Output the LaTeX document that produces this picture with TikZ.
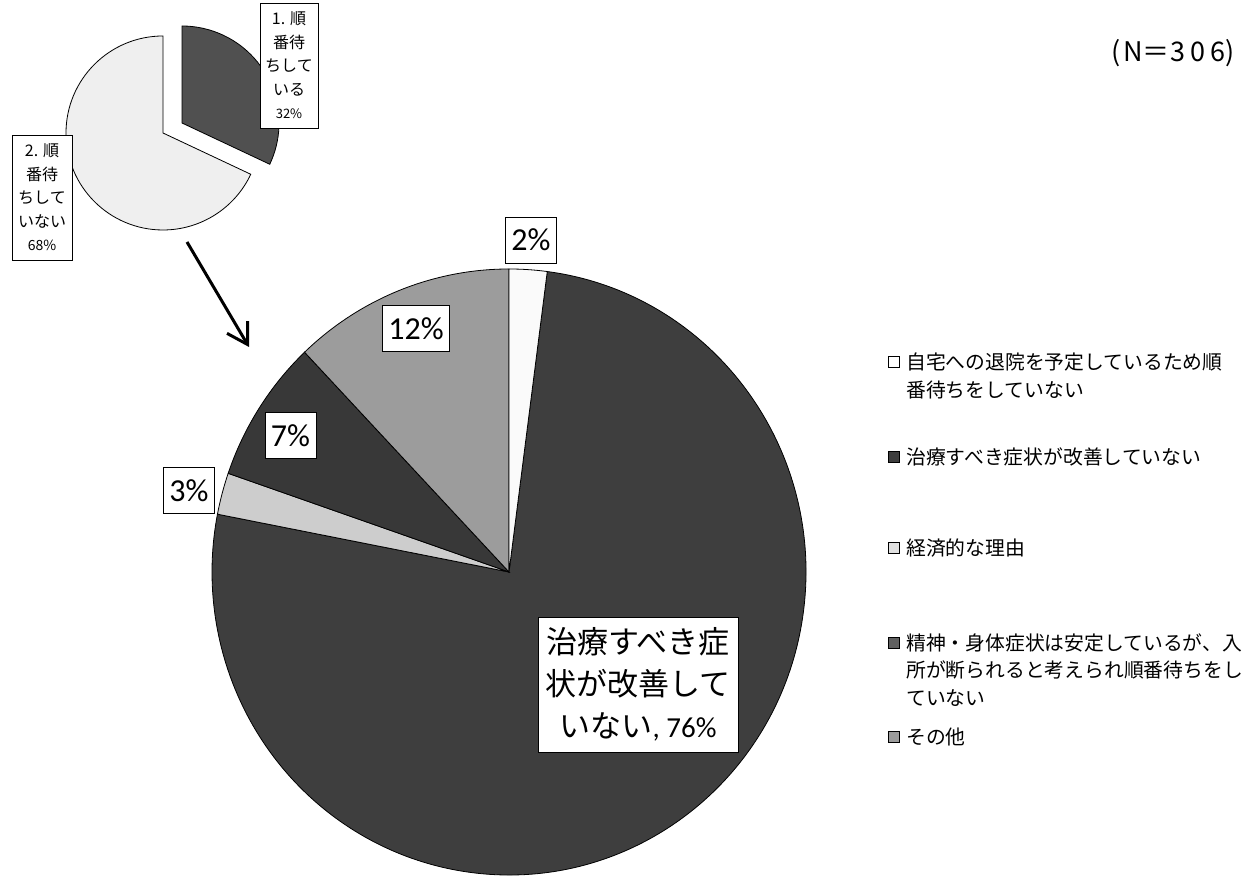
\documentclass[tikz,border=0pt]{standalone}
\usepackage{fontspec}
\setmainfont{Carlito}
\newfontfamily\jp{Noto Sans CJK JP}
\newfontfamily\carl{Carlito}
\usetikzlibrary{arrows.meta}
\definecolor{cwhite}{HTML}{FAFAFA}
\definecolor{cdark}{HTML}{3E3E3E}
\definecolor{cdarkb}{HTML}{383838}
\definecolor{clight}{HTML}{CDCDCD}
\definecolor{cmid}{HTML}{9C9C9C}
\definecolor{csmalldark}{HTML}{505050}
\definecolor{csmalllight}{HTML}{EFEFEF}
\begin{document}
\begin{tikzpicture}[x=1pt,y=1pt,
  sliceline/.style={draw=black,line width=0.8pt},
  pctbox/.style={draw=black,fill=white,line width=0.8pt,font=\carl\fontsize{32}{38}\selectfont,inner xsep=6pt,inner ysep=0pt,minimum height=46pt},
  smallbox/.style={draw=black,fill=white,line width=0.8pt,align=center,inner sep=0pt,font=\jp\fontsize{16}{23.5}\selectfont},
  legtext/.style={anchor=west,align=left,inner sep=0pt,font=\jp\fontsize{19.8}{27.5}\selectfont},
  legsq/.style={draw=black,line width=0.6pt,minimum size=11pt,inner sep=0pt}]
\useasboundingbox[fill=white] (0,0) rectangle (1252,877);

% ---- small pie ----
\begin{scope}[shift={(163,744)}]
  \draw[sliceline,fill=csmalllight] (0,0) -- (90:97) arc[start angle=90,end angle=334.8,radius=97] -- cycle;
\end{scope}
\begin{scope}[shift={(182,754)}]
  \draw[sliceline,fill=csmalldark] (0,0) -- (-25.2:97) arc[start angle=-25.2,end angle=90,radius=97] -- cycle;
\end{scope}
\node[smallbox,minimum width=58pt,minimum height=125pt] (lbl32) at (289,811.5)
  {1. 順\\番待\\ちして\\いる\\{\fontsize{13}{23.5}\selectfont 32\%}};
\node[smallbox,minimum width=60pt,minimum height=125pt] (lbl68) at (42,679.5)
  {2. 順\\番待\\ちして\\いない\\{\fontsize{14}{23.5}\selectfont 68\%}};

% ---- arrow ----
\coordinate (arrowstart) at (187,635);
\coordinate (arrowend) at (249,530);
\draw[line width=3pt,-{Straight Barb[length=20pt,width=24pt,line width=3pt]}] (arrowstart) -- (arrowend);

% ---- big pie ----
\coordinate (bc) at (509,305);
\begin{scope}[shift={(509,305)}]
  \draw[sliceline,fill=cdark] (0,0) -- (82.6:297 and 303) arc[start angle=82.6,end angle=-191,x radius=297,y radius=303] -- cycle;
  \draw[sliceline,fill=clight] (0,0) -- (169:297 and 303) arc[start angle=169,end angle=161,x radius=297,y radius=303] -- cycle;
  \draw[sliceline,fill=cdarkb] (0,0) -- (161:297 and 303) arc[start angle=161,end angle=133.5,x radius=297,y radius=303] -- cycle;
  \draw[sliceline,fill=cmid] (0,0) -- (133.5:297 and 303) arc[start angle=133.5,end angle=90,x radius=297,y radius=303] -- cycle;
  \draw[sliceline,fill=cwhite] (0,0) -- (90:297 and 303) arc[start angle=90,end angle=82.6,x radius=297,y radius=303] -- cycle;
\end{scope}

% ---- pie labels ----
\node[pctbox] (p2) at (531,637) {2\%};
\node[pctbox] (p12) at (416,548.5) {12\%};
\node[pctbox] (p7) at (290.5,441.5) {7\%};
\node[pctbox] (p3) at (189,386.5) {3\%};
\node[draw=black,fill=white,line width=0.8pt,align=center,inner sep=0pt,minimum width=200pt,minimum height=135pt,font=\jp\fontsize{31}{42}\selectfont] (p76) at (638,192.5)
  {治療すべき症\\状が改善して\\いない{\carl\fontsize{29}{42}\selectfont , 76\%}};

% ---- N ----
\node[inner sep=0pt,font=\jp\fontsize{27}{30}\selectfont] (ntext) at (1173,824) {(\hspace{3pt}N＝\hspace{1pt}3\hspace{5pt}0\hspace{5pt}6)};

% ---- legend ----
\node[legsq,fill=white] (sq1) at (893.5,515) {};
\node[legsq,fill=cdark] (sq2) at (893.5,420) {};
\node[legsq,fill=clight!60!white] (sq3) at (893.5,329) {};
\node[legsq,fill=cdarkb!80!white] (sq4) at (893.5,234) {};
\node[legsq,fill=cmid] (sq5) at (893.5,140) {};
\node[legtext] (lg1) at (906,501) {自宅への退院を予定しているため順\\番待ちをしていない};
\node[legtext] (lg2) at (906,420) {治療すべき症状が改善していない};
\node[legtext] (lg3) at (906,329) {経済的な理由};
\node[legtext] (lg4) at (906,207) {精神・身体症状は安定しているが、入\\所が断られると考えられ順番待ちをし\\ていない};
\node[legtext] (lg5) at (906,140) {その他};
\end{tikzpicture}
\end{document}
